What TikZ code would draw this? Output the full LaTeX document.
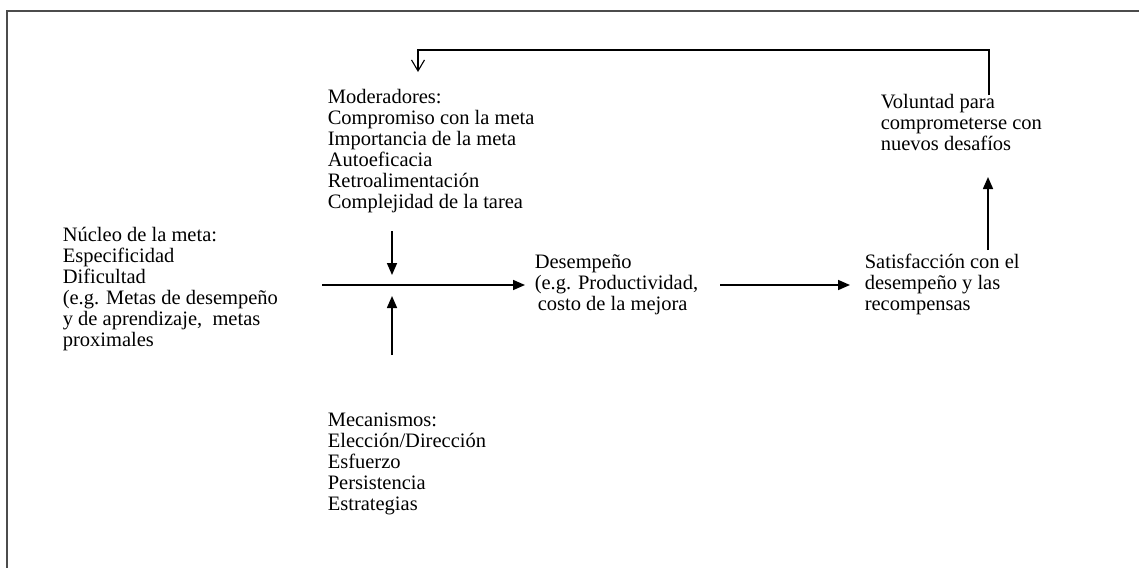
\documentclass[tikz,border=0pt]{standalone}
\usepackage{fontspec}
\setmainfont{Liberation Serif}
\usetikzlibrary{arrows.meta}

\begin{document}
\begin{tikzpicture}[x=1pt, y=-1pt, line width=1.6pt,
  txt/.style={anchor=north west, inner sep=0pt, align=left,
              font=\fontsize{20.5}{21}\selectfont},
  flecha/.style={-{Triangle[length=12pt,width=10pt]}},
  retro/.style={-{Straight Barb[length=11pt,width=13pt,line width=1.1pt]}}]
\useasboundingbox (0,0) rectangle (1139,568);
% frame
\draw[line width=2pt, black!70] (1139,11) -- (7,11) -- (7,568);
% blocks of text
\node[txt] (nucleo) at (62,226) {\strut N\'ucleo de la meta:\\Especificidad\\Dificultad\\(e.g. Metas de desempe\~no\\y de aprendizaje,~ metas\\proximales};
\node[txt] (moder) at (327,88) {\strut Moderadores:\\Compromiso con la meta\\Importancia de la meta\\Autoeficacia\\Retroalimentaci\'on\\Complejidad de la tarea};
\node[txt] (mecan) at (327,411) {\strut Mecanismos:\\Elecci\'on/Direcci\'on\\Esfuerzo\\Persistencia\\Estrategias};
\node[txt] (desemp) at (534,253) {\strut Desempe\~no\\(e.g. Productividad,\\\hspace{3pt}costo de la mejora};
\node[txt] (satisf) at (864,253) {\strut Satisfacci\'on con el\\desempe\~no y las\\recompensas};
\node[txt] (volunt) at (880,93) {\strut Voluntad para\\comprometerse con\\nuevos desaf\'ios};
% arrows
\coordinate (cruce) at (392,285);
\coordinate (n1) at (322,285);
\coordinate (d1) at (525,285);
\coordinate (d2) at (720,285);
\coordinate (s1) at (850,285);
\coordinate (m1) at (392,231);
\coordinate (m2) at (392,275);
\coordinate (k1) at (392,355);
\coordinate (k2) at (392,296);
\draw[flecha] (n1) -- (d1);
\draw[flecha] (m1) -- (m2);
\draw[flecha] (k1) -- (k2);
\draw[flecha] (d2) -- (s1);
\coordinate (v1) at (988,250);
\coordinate (v2) at (988,177);
\draw[flecha] (v1) -- (v2);
% feedback
\coordinate (r1) at (989,95);
\coordinate (r2) at (418,72);
\draw[retro] (r1) -- (989,50) -| (r2);
\end{tikzpicture}
\end{document}
